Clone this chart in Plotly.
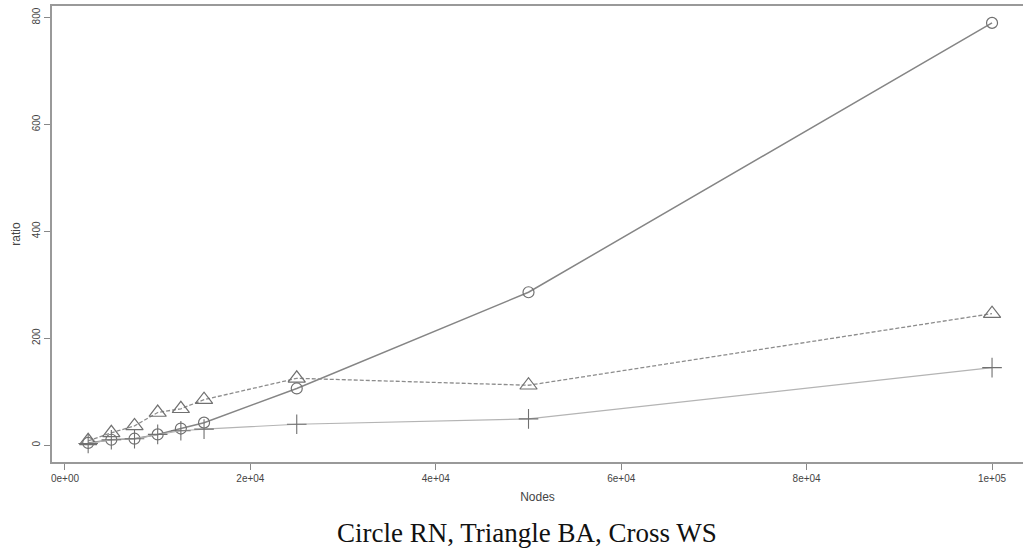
import plotly.graph_objects as go

# Network sizes (number of nodes)
nodes = [2500, 5000, 7500, 10000, 12500, 15000, 25000, 50000, 100000]

# Ratio for each network model
ratio_rn = [4, 10, 12, 20, 31, 42, 106, 286, 790]
ratio_ba = [8, 23, 36, 61, 68, 85, 125, 112, 246]
ratio_ws = [3, 10, 12, 20, 27, 30, 39, 49, 145]

x_ticks = [0, 20000, 40000, 60000, 80000, 100000]
x_tick_text = ["0e+00", "2e+04", "4e+04", "6e+04", "8e+04", "1e+05"]
y_ticks = [0, 200, 400, 600, 800]

fig = go.Figure()

fig.add_trace(go.Scatter(
    x=nodes, y=ratio_rn, mode="lines+markers", name="RN",
    line=dict(color="#858585", width=1.5),
    marker=dict(symbol="circle-open", size=11, color="#707070", line=dict(width=1.2)),
))
fig.add_trace(go.Scatter(
    x=nodes, y=ratio_ba, mode="lines+markers", name="BA",
    line=dict(color="#8c8c8c", width=1.3, dash="4px,2px"),
    marker=dict(symbol="triangle-up-open", size=15, color="#707070", line=dict(width=1.2)),
))
fig.add_trace(go.Scatter(
    x=nodes, y=ratio_ws, mode="lines+markers", name="WS",
    line=dict(color="#b4b4b4", width=1.1),
    marker=dict(symbol="cross-thin-open", size=14, color="#707070", line=dict(width=1.1)),
))

axis_font = dict(family="Liberation Sans, Arial, sans-serif", size=10, color="#444444")
title_font = dict(family="Liberation Sans, Arial, sans-serif", size=12, color="#444444")

fig.update_layout(
    width=1023, height=548,
    margin=dict(l=52, r=0, t=6, b=86),
    paper_bgcolor="white", plot_bgcolor="white",
    showlegend=False,
    xaxis=dict(
        range=[-1400, 103340],
        tickmode="array", tickvals=x_ticks, ticktext=x_tick_text,
        ticks="outside", ticklen=6, tickcolor="#888888", tickwidth=1,
        tickfont=axis_font, showgrid=False, zeroline=False,
        showline=True, linecolor="#999999", linewidth=1.5, mirror=True,
        title=dict(text="Nodes", font=title_font, standoff=10),
    ),
    yaxis=dict(
        range=[-31.6, 821.6],
        tickmode="array", tickvals=y_ticks,
        ticks="outside", ticklen=6, tickcolor="#888888", tickwidth=1,
        tickfont=axis_font, tickangle=-90, showgrid=False, zeroline=False,
        showline=True, linecolor="#999999", linewidth=1.5, mirror=False,
        title=dict(text="ratio", font=title_font, standoff=8),
    ),
    annotations=[dict(
        text="Circle RN, Triangle BA, Cross WS",
        xref="paper", yref="paper", x=0.4897, y=-0.1557,
        xanchor="center", yanchor="middle", showarrow=False,
        font=dict(family="Liberation Serif, Times New Roman, serif", size=27, color="#111111"),
    )],
)

fig.write_html("out.html")
